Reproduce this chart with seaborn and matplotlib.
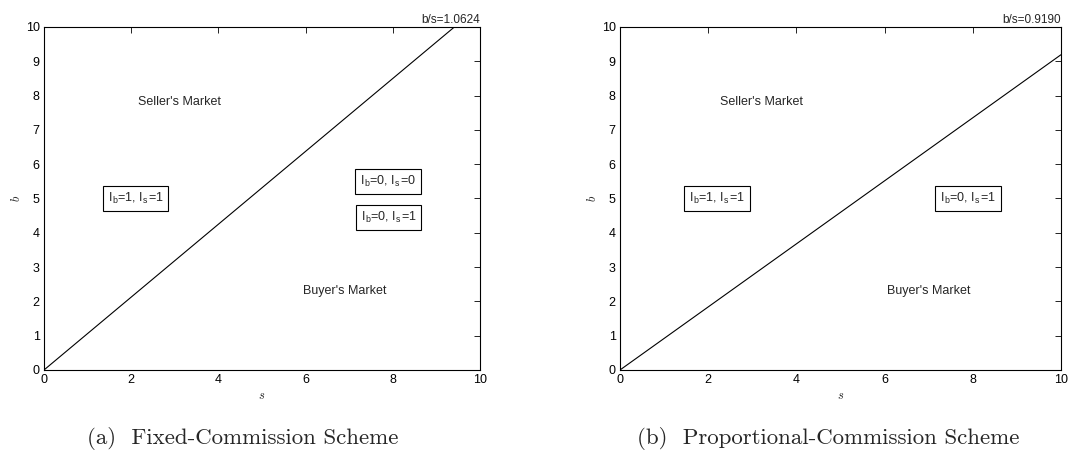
import matplotlib
matplotlib.use("Agg")
import matplotlib.pyplot as plt
import seaborn as sns
import pandas as pd

# boundary lines b = ratio * s
ratios = [1.0624, 0.9190]
left_s = [0.0, 9.4127]
left_b = [0.0, 10.0]
right_s = [0.0, 10.0]
right_b = [0.0, 9.19]
captions = ["(a)  Fixed-Commission Scheme", "(b)  Proportional-Commission Scheme"]
caption_x = [0.456, 0.472]

# region labels: (x, y, text, boxed)
left_labels = [(3.1, 7.8, "Seller's Market", False),
               (2.1, 5.0, r"I$_\mathregular{b}$=1, I$_\mathregular{s}$=1", True),
               (7.9, 5.5, r"I$_\mathregular{b}$=0, I$_\mathregular{s}$=0", True),
               (7.9, 4.45, r"I$_\mathregular{b}$=0, I$_\mathregular{s}$=1", True),
               (6.9, 2.3, "Buyer's Market", False)]
right_labels = [(3.2, 7.8, "Seller's Market", False),
                (2.2, 5.0, r"I$_\mathregular{b}$=1, I$_\mathregular{s}$=1", True),
                (7.9, 5.0, r"I$_\mathregular{b}$=0, I$_\mathregular{s}$=1", True),
                (7.0, 2.3, "Buyer's Market", False)]

sns.set_theme(style="white")
plt.rcParams['font.family'] = ['Liberation Sans', 'DejaVu Sans']
plt.rcParams['mathtext.fontset'] = 'cm'

fig = plt.figure(figsize=(10.7, 4.59), dpi=100)
ax1 = fig.add_axes([0.0411, 0.1939, 0.4075, 0.7473])
ax2 = fig.add_axes([0.5794, 0.1939, 0.4121, 0.7473])

panels = [(ax1, left_s, left_b, left_labels, ratios[0], captions[0], caption_x[0]),
          (ax2, right_s, right_b, right_labels, ratios[1], captions[1], caption_x[1])]

for ax, xs, ys, labels, r, cap, cx in panels:
    df = pd.DataFrame({"s": xs, "b": ys})
    sns.lineplot(data=df, x="s", y="b", ax=ax, color="black", linewidth=0.8)
    ax.set_xlim(0, 10)
    ax.set_ylim(0, 10)
    ax.set_xticks([0, 2, 4, 6, 8, 10])
    ax.set_yticks(range(0, 11))
    ax.tick_params(direction="in", top=True, right=True, labelsize=9,
                   length=4, width=0.6, pad=3, colors="black")
    for sp in ax.spines.values():
        sp.set_color("black")
        sp.set_linewidth(0.8)
    ax.set_xlabel("$s$", fontsize=9, labelpad=3)
    ax.set_ylabel("$b$", fontsize=9, labelpad=2)
    ax.set_title("b/s=%.4f" % r, loc="right", fontsize=8.5, pad=3)
    for x, y, t, boxed in labels:
        kw = dict(ha="center", va="center", fontsize=9)
        if boxed:
            kw["bbox"] = dict(boxstyle="square,pad=0.4", fc="white", ec="black", lw=0.8)
        ax.text(x, y, t, **kw)
    ax.text(cx, -0.2, cap, transform=ax.transAxes, ha="center", va="center",
            fontsize=16.5, family=["cmr10", "DejaVu Serif"])

fig.savefig("out.png", dpi=100)
